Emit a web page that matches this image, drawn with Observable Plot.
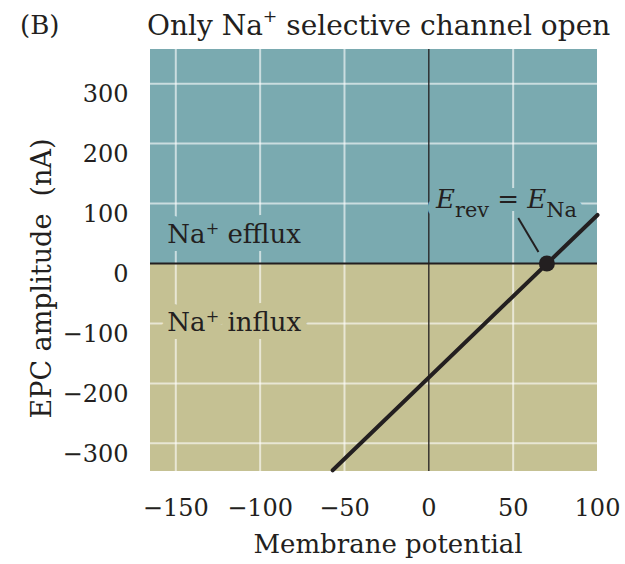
<!DOCTYPE html>
<html>
<head>
<meta charset="utf-8">
<script src="https://cdn.jsdelivr.net/npm/d3@7"></script>
<script src="https://cdn.jsdelivr.net/npm/@observablehq/plot@0.6"></script>
<style>
  body { margin: 0; background: #fff; }
  #fig { position: relative; width: 625px; height: 564px; font-family: "DejaVu Serif", serif; color: #231f20; }
  #head { position: relative; height: 48px; }
  #head span { position: absolute; top: 9px; white-space: nowrap; }
  #panel { left: 20px; font-size: 26px; top: 10px !important; }
  #title { left: 147px; font-size: 28px; }
  sup { font-size: 0.62em; line-height: 0; vertical-align: 0.75em; }
</style>
</head>
<body>
<div id="fig">
  <div id="head"><span id="panel">(B)</span><span id="title">Only Na<sup>+</sup> selective channel open</span></div>
  <div id="chart"></div>
</div>
<script>
// Axis extents and ticks (membrane potential in mV, EPC amplitude in nA)
const xDomain = [-165, 100];
const yDomain = [-347, 357];
const xTicks = [-150, -100, -50, 0, 50, 100];
const yTicks = [-300, -200, -100, 0, 100, 200, 300];
const xGrid = [-150, -100, -50, 50];
const yGrid = [-300, -200, -100, 100, 200, 300];

// Current direction regions
const effluxRegion = [{y1: 0, y2: 357}];
const influxRegion = [{y1: -347, y2: 0}];

// EPC amplitude vs membrane potential (Na+ only)
const ivLine = [{v: -57, i: -345}, {v: 100, i: 81}];
const reversal = [{v: 70, i: 0}];

// Labels (^{..} superscript, _{..} subscript, *..* italic)
const effluxLabel = [{text: "Na^{+} efflux", v: -155, i: 48}];
const influxLabel = [{text: "Na^{+} influx", v: -155, i: -99}];
const revLabel = [{text: "*E*_{rev} = *E*_{Na}", v: 46, i: 106}];
const revLeader = [{x1: 53, y1: 76, x2: 65, y2: 19}];

const teal = "#7aaab0";
const olive = "#c5c193";
const ink = "#231f20";

// a label drawn twice: a halo in the region colour, then the ink on top
function haloText(data, bg, opts = {}) {
  const base = {x: "v", y: "i", text: "text", ...opts};
  return [
    Plot.text(data, {...base, fill: bg, stroke: bg, strokeWidth: 16, strokeLinejoin: "round"}),
    Plot.text(data, {...base, fill: ink})
  ];
}

const plot = Plot.plot({
  width: 625,
  height: 516,
  marginTop: 1,
  marginLeft: 150,
  marginRight: 28,
  marginBottom: 93,
  style: {fontFamily: "'DejaVu Serif', serif", fontSize: "24px", color: ink, background: "transparent"},
  x: {domain: xDomain, ticks: xTicks, tickSize: 0, tickPadding: 27, label: null, tickFormat: d3.format("d")},
  y: {domain: yDomain, ticks: yTicks, tickSize: 0, tickPadding: 22, label: null, tickFormat: d3.format("d")},
  marks: [
    Plot.rect(effluxRegion, {x1: xDomain[0], x2: xDomain[1], y1: "y1", y2: "y2", fill: teal}),
    Plot.rect(influxRegion, {x1: xDomain[0], x2: xDomain[1], y1: "y1", y2: "y2", fill: olive}),
    Plot.ruleX(xGrid, {stroke: "#fff", strokeOpacity: 0.6, strokeWidth: 2}),
    Plot.ruleY(yGrid, {stroke: "#fff", strokeOpacity: 0.6, strokeWidth: 2}),
    Plot.ruleX([0], {stroke: ink, strokeWidth: 1.3}),
    Plot.ruleY([0], {stroke: ink, strokeWidth: 2}),
    ...haloText(effluxLabel, teal, {textAnchor: "start", fontSize: 26}),
    ...haloText(influxLabel, olive, {textAnchor: "start", fontSize: 26}),
    ...haloText(revLabel, teal, {fontSize: 26}),
    Plot.link(revLeader, {x1: "x1", y1: "y1", x2: "x2", y2: "y2", stroke: ink, strokeWidth: 2}),
    Plot.line(ivLine, {x: "v", y: "i", stroke: ink, strokeWidth: 4}),
    Plot.dot(reversal, {x: "v", y: "i", r: 8, fill: ink, stroke: "none"}),
    Plot.text(["Membrane potential"], {frameAnchor: "bottom", dx: 14, dy: 81, fill: ink, fontSize: 26}),
    Plot.text(["EPC amplitude\u00a0\u00a0(nA)"], {frameAnchor: "left", textAnchor: "middle", lineAnchor: "middle", rotate: -90, dx: -108, dy: 18, fill: ink, fontSize: 27})
  ]
});

// y tick labels sit a little below their grid lines
d3.select(plot).selectAll('[aria-label^="y-axis"] text').attr("dy", "0.45em");

// Turn the lightweight markup in labels into tspans
d3.select(plot).selectAll("text").each(function () {
  const t = this.textContent;
  if (!/[\^_*]/.test(t) || this.querySelector("tspan")) return;
  const el = d3.select(this);
  el.text(null);
  for (const part of t.split(/(\^\{[^}]*\}|_\{[^}]*\}|\*[^*]*\*)/).filter(Boolean)) {
    if (part.startsWith("^{")) {
      el.append("tspan").attr("baseline-shift", "9").attr("font-size", "0.62em").text(part.slice(2, -1));
    } else if (part.startsWith("_{")) {
      el.append("tspan").attr("baseline-shift", "-9").attr("font-size", "0.8em").text(part.slice(2, -1));
    } else if (part.startsWith("*")) {
      el.append("tspan").attr("font-style", "italic").text(part.slice(1, -1));
    } else {
      el.append("tspan").text(part);
    }
  }
});

document.getElementById("chart").append(plot);
</script>
</body>
</html>
